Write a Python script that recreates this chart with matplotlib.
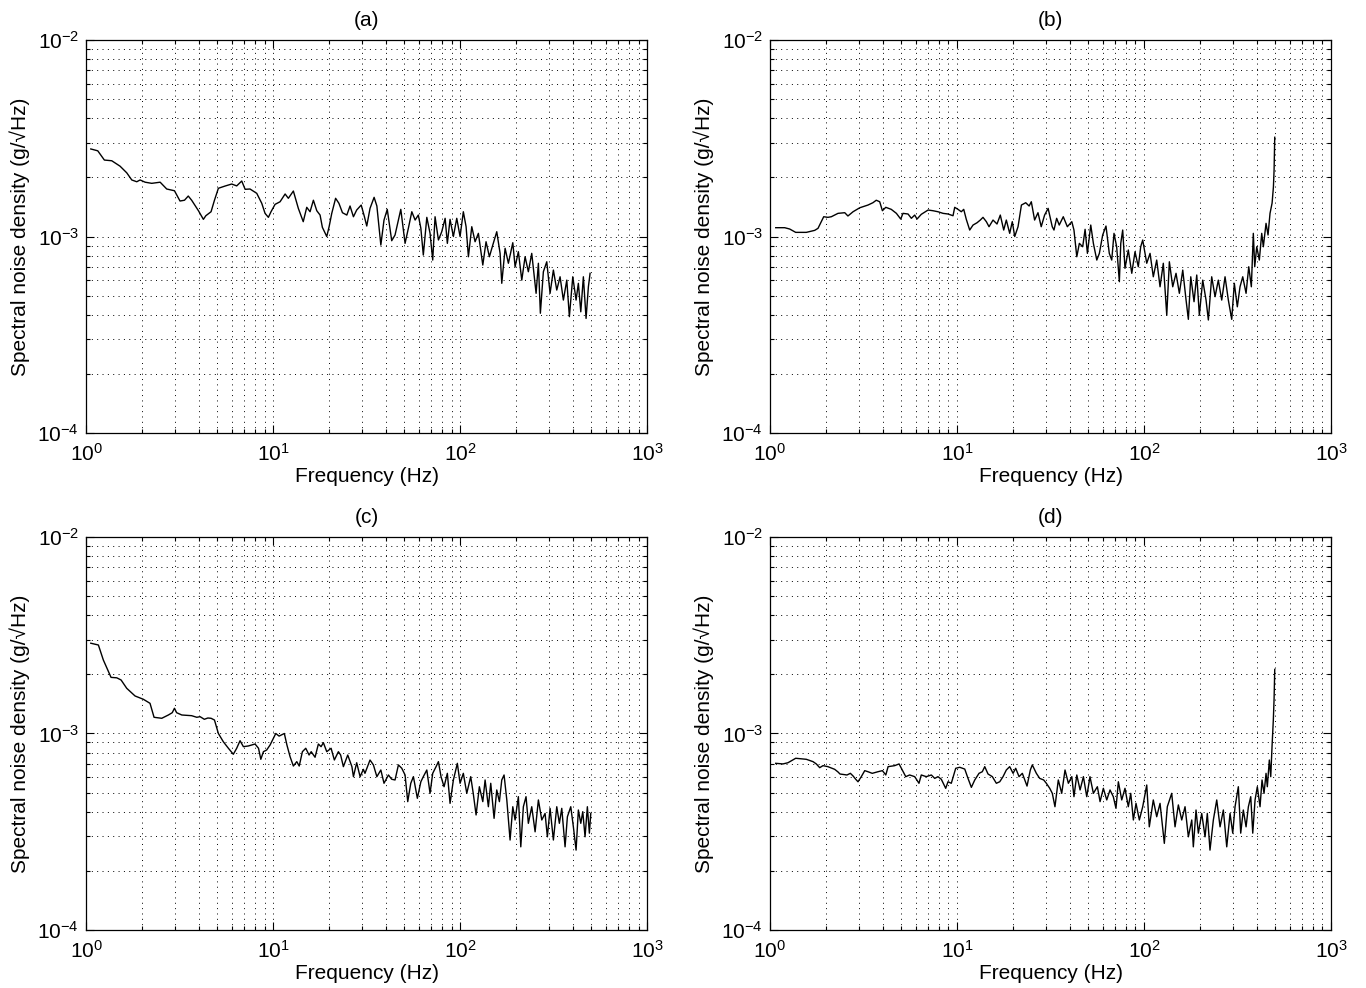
import numpy as np
import matplotlib
matplotlib.use('Agg')
import matplotlib.pyplot as plt
from matplotlib.ticker import LogLocator, NullFormatter

plt.rcParams['font.family'] = ['Liberation Sans', 'DejaVu Sans']
plt.rcParams['mathtext.fontset'] = 'custom'
plt.rcParams['mathtext.rm'] = 'Liberation Sans'
plt.rcParams['mathtext.it'] = 'Liberation Sans:italic'
plt.rcParams['mathtext.bf'] = 'Liberation Sans:bold'

# spectra; psd values in units of 1e-3 g/sqrt(Hz)
freq_a = [1.06, 1.155, 1.253, 1.372, 1.52, 1.65, 1.756, 1.867, 1.945, 2.07,
          2.245, 2.49, 2.70, 2.97, 3.18, 3.36, 3.52, 3.67, 3.99, 4.24,
          4.37, 4.66, 4.86, 5.10, 5.54, 6.01, 6.39, 6.80, 7.09, 7.53,
          8.18, 8.70, 9.06, 9.44, 9.75, 10.25, 10.9, 11.6, 12.07, 12.84,
          13.65, 14.5, 15.14, 15.77, 16.43, 17.13, 17.84, 18.35, 19.37, 19.94,
          20.6, 21.6, 22.5, 23.5, 24.8, 25.8, 26.9, 28.0, 29.6, 30.8,
          31.7, 33.0, 34.7, 35.9, 37.7, 39.2, 40.8, 43.1, 44.9, 48.2,
          50.8, 52.9, 55.2, 57.5, 59.8, 61.7, 63.6, 66.4, 69.1, 71.4,
          73.5, 76.6, 79.8, 83.2, 85.5, 88.4, 92.1, 96.0, 100, 104.1,
          107.7, 110.8, 115.5, 120.3, 125.3, 132.3, 137.7, 143.5, 149.6, 157.1,
          163.7, 167.1, 174.1, 181.3, 191.4, 196.9, 205.0, 213.8, 222.7, 231.8,
          241.7, 255.0, 262.3, 268.8, 278.9, 290.8, 302.9, 315.5, 328.9, 342.6,
          356.8, 372.1, 384.1, 400.6, 417.2, 429.1, 442.1, 456.4, 471.8, 485.5,
          495.7]
psd_a = [2.79, 2.73, 2.45, 2.43, 2.28, 2.11, 1.94, 1.90, 1.94, 1.89,
         1.865, 1.89, 1.745, 1.71, 1.516, 1.53, 1.607, 1.53, 1.353, 1.223,
         1.276, 1.337, 1.53, 1.76, 1.807, 1.85, 1.81, 1.916, 1.739, 1.745,
         1.659, 1.476, 1.312, 1.252, 1.337, 1.458, 1.503, 1.646, 1.565, 1.704,
         1.391, 1.19, 1.408, 1.337, 1.53, 1.353, 1.286, 1.114, 1.0, 1.122,
         1.312, 1.565, 1.476, 1.322, 1.286, 1.43, 1.261, 1.364, 1.446, 1.261,
         1.131, 1.391, 1.583, 1.43, 0.905, 1.213, 1.375, 0.952, 1.018, 1.375,
         0.923, 1.101, 1.337, 1.213, 1.286, 1.101, 0.805, 1.252, 1.038, 0.759,
         1.261, 0.96, 1.058, 1.238, 0.923, 1.223, 1.0, 1.238, 1.0, 1.337,
         1.122, 0.789, 1.122, 0.941, 1.038, 0.716, 0.941, 0.789, 0.905, 1.058,
         0.821, 0.578, 0.871, 0.731, 0.93, 0.702, 0.837, 0.60, 0.789, 0.662,
         0.821, 0.514, 0.731, 0.407, 0.662, 0.744, 0.514, 0.675, 0.534, 0.624,
         0.475, 0.60, 0.391, 0.624, 0.475, 0.578, 0.414, 0.624, 0.383, 0.555,
         0.65]

freq_b = [1.073, 1.198, 1.274, 1.372, 1.564, 1.734, 1.806, 1.88, 1.937, 2.04,
          2.127, 2.31, 2.51, 2.61, 2.78, 3.02, 3.34, 3.55, 3.70, 3.86,
          3.99, 4.16, 4.45, 4.74, 5.0, 5.14, 5.47, 5.70, 5.94, 6.11,
          6.44, 7.0, 7.44, 7.91, 8.42, 8.95, 9.52, 9.72, 10.12, 10.54,
          10.86, 11.21, 11.69, 12.18, 12.79, 13.32, 13.77, 14.35, 14.83, 15.58,
          16.36, 17.04, 17.77, 18.35, 19.13, 19.75, 20.35, 21.2, 22.1, 23.3,
          24.3, 24.96, 26.0, 27.1, 28.2, 29.4, 30.7, 32.3, 33.0, 34.1,
          35.2, 37.0, 38.9, 41.1, 42.2, 43.7, 45.1, 47.0, 48.4, 49.8,
          51.9, 53.6, 55.9, 57.7, 60.1, 62.6, 65.2, 67.2, 69.1, 71.4,
          73.8, 75.1, 76.9, 79.1, 82.4, 86.0, 89.5, 93.2, 96.0, 98.4,
          103.4, 107.7, 112.1, 116.9, 121.8, 126.8, 132.3, 136.6, 142.4, 148.3,
          154.5, 161.1, 167.8, 172.6, 177.8, 185.1, 191.4, 197.6, 206.0, 214.6,
          220.8, 230.1, 239.8, 249.6, 260.3, 271.2, 282.4, 294.4, 304.0, 315.4,
          326.1, 337.2, 351.3, 363.1, 374.9, 384.1, 390.8, 400.6, 413.6, 426.0,
          434.5, 449.2, 460.4, 471.8, 484, 492, 496, 500]
psd_b = [1.109, 1.109, 1.092, 1.05, 1.05, 1.075, 1.101, 1.19, 1.261, 1.252,
         1.261, 1.312, 1.322, 1.272, 1.337, 1.401, 1.446, 1.486, 1.53, 1.503,
         1.353, 1.408, 1.375, 1.312, 1.227, 1.312, 1.302, 1.238, 1.286, 1.227,
         1.297, 1.364, 1.353, 1.337, 1.312, 1.302, 1.276, 1.408, 1.375, 1.337,
         1.375, 1.223, 1.079, 1.144, 1.175, 1.213, 1.252, 1.19, 1.122, 1.213,
         1.158, 1.286, 1.079, 1.213, 1.038, 1.19, 1.0, 1.122, 1.446, 1.486,
         1.43, 1.503, 1.213, 1.322, 1.122, 1.286, 1.391, 1.122, 1.079, 1.238,
         1.144, 1.261, 1.122, 1.19, 1.079, 0.789, 0.923, 0.887, 1.088, 0.821,
         1.144, 0.923, 0.759, 0.821, 1.018, 1.131, 0.821, 0.759, 1.038, 0.887,
         0.589, 0.923, 1.079, 0.689, 0.854, 0.65, 0.837, 0.702, 0.887, 0.96,
         0.731, 0.821, 0.624, 0.759, 0.555, 0.731, 0.398, 0.744, 0.555, 0.65,
         0.514, 0.675, 0.475, 0.379, 0.624, 0.466, 0.637, 0.398, 0.60, 0.475,
         0.376, 0.624, 0.494, 0.60, 0.475, 0.624, 0.475, 0.379, 0.578, 0.439,
         0.555, 0.624, 0.514, 0.702, 0.555, 1.038, 0.702, 0.887, 0.759, 1.038,
         0.887, 1.167, 1.018, 1.312, 1.48, 1.79, 2.18, 3.2]

freq_c = [1.06, 1.164, 1.237, 1.36, 1.46, 1.539, 1.65, 1.828, 2.025, 2.198,
          2.31, 2.54, 2.755, 2.89, 2.97, 3.05, 3.25, 3.67, 3.91, 4.07,
          4.29, 4.48, 4.66, 4.86, 5.10, 5.42, 5.77, 6.13, 6.39, 6.66,
          6.94, 7.38, 8.01, 8.36, 8.6, 8.88, 9.24, 9.64, 10.34, 10.77,
          11.49, 11.86, 12.33, 12.84, 13.39, 13.8, 14.35, 14.96, 15.58, 15.99,
          16.77, 17.47, 18.06, 18.58, 19.37, 20.43, 21.27, 22.35, 22.98, 23.77,
          25.08, 26.4, 26.9, 28.0, 29.2, 30.4, 31.0, 33.0, 34.4, 35.9,
          37.7, 39.2, 41.4, 43.1, 44.9, 46.8, 48.8, 50.8, 52.5, 54.5,
          56.3, 59.1, 61.7, 63.6, 66.4, 69.1, 71.4, 74.4, 76.6, 79.1,
          82.1, 85.5, 88.4, 92.1, 96.7, 100, 104.1, 108.6, 114.0, 117.6,
          121.8, 126.8, 132.3, 136.1, 141.7, 145.9, 152.0, 157.1, 162.3, 167.1,
          171.9, 177.8, 185.1, 191.4, 196.9, 205.0, 211.2, 218.0, 225.3, 231.8,
          241.7, 251.9, 262.3, 273.5, 284.8, 293.0, 302.9, 315.5, 328.9, 339.6,
          349.8, 364.3, 374.9, 390.8, 403.5, 417.2, 429.1, 442.1, 453.0, 466.0,
          479.4, 491.4, 500]
psd_c = [2.88, 2.82, 2.366, 1.93, 1.92, 1.872, 1.698, 1.552, 1.493, 1.424,
         1.209, 1.195, 1.242, 1.276, 1.344, 1.276, 1.242, 1.232, 1.209, 1.218,
         1.181, 1.199, 1.195, 1.171, 1.0, 0.908, 0.841, 0.784, 0.841, 0.919,
         0.857, 0.864, 0.884, 0.841, 0.739, 0.808, 0.824, 0.874, 1.0, 0.97,
         1.0, 0.874, 0.762, 0.683, 0.719, 0.683, 0.808, 0.841, 0.777, 0.808,
         0.757, 0.884, 0.857, 0.898, 0.808, 0.841, 0.733, 0.808, 0.777, 0.678,
         0.777, 0.678, 0.603, 0.71, 0.603, 0.657, 0.627, 0.733, 0.692, 0.603,
         0.652, 0.558, 0.615, 0.585, 0.58, 0.692, 0.665, 0.615, 0.45, 0.558,
         0.603, 0.468, 0.568, 0.603, 0.652, 0.496, 0.627, 0.678, 0.719, 0.603,
         0.536, 0.627, 0.441, 0.58, 0.705, 0.558, 0.627, 0.496, 0.603, 0.496,
         0.385, 0.536, 0.45, 0.58, 0.424, 0.558, 0.37, 0.516, 0.45, 0.58,
         0.615, 0.459, 0.287, 0.424, 0.363, 0.477, 0.265, 0.424, 0.477, 0.349,
         0.424, 0.316, 0.459, 0.363, 0.392, 0.298, 0.416, 0.287, 0.424, 0.349,
         0.416, 0.265, 0.377, 0.424, 0.335, 0.255, 0.408, 0.349, 0.4, 0.298,
         0.424, 0.311, 0.392]

freq_d = [1.073, 1.173, 1.248, 1.372, 1.564, 1.698, 1.768, 1.844, 1.92, 2.04,
          2.218, 2.31, 2.367, 2.58, 2.69, 2.78, 2.873, 2.955, 3.077, 3.21,
          3.34, 3.52, 3.78, 3.99, 4.16, 4.28, 4.64, 4.90, 5.04, 5.32,
          5.58, 5.94, 6.26, 6.44, 6.85, 7.29, 7.6, 7.91, 8.24, 8.70,
          8.95, 9.32, 9.84, 10.34, 11.0, 11.45, 11.93, 12.44, 13.11, 13.65,
          14.07, 14.65, 15.45, 16.23, 16.92, 17.62, 18.35, 19.13, 19.94, 20.6,
          21.46, 22.35, 23.68, 24.66, 25.27, 26.56, 27.68, 29.08, 30.03, 31.32,
          32.33, 33.4, 34.8, 36.3, 37.8, 39.4, 41.1, 42.2, 43.7, 45.5,
          47.4, 49.4, 51.4, 53.6, 56.3, 58.2, 60.6, 63.2, 65.8, 68.5,
          70.8, 72.9, 76.0, 79.1, 82.4, 84.9, 87.7, 90.6, 94.4, 98.4,
          103.4, 106.7, 112.1, 116.9, 121.8, 128.4, 133.2, 140.6, 146.5, 152.6,
          159.1, 165.7, 172.6, 180.0, 183.5, 189.7, 195.2, 203.5, 212.0, 218.0,
          225.3, 234.8, 244.8, 255.0, 265.6, 276.9, 288.4, 298.1, 306.7, 319.4,
          328.9, 339.6, 351.3, 361.4, 372.1, 381.4, 392.4, 403.5, 417.2, 427.6,
          438.3, 449.2, 456.4, 467.8, 476.0, 483.6, 491.4, 496, 500]
psd_d = [0.705, 0.70, 0.71, 0.748, 0.739, 0.719, 0.70, 0.67, 0.686, 0.678,
         0.657, 0.637, 0.622, 0.615, 0.627, 0.608, 0.585, 0.568, 0.603, 0.647,
         0.639, 0.627, 0.639, 0.647, 0.615, 0.678, 0.686, 0.70, 0.665, 0.603,
         0.615, 0.603, 0.558, 0.615, 0.603, 0.615, 0.591, 0.603, 0.585, 0.526,
         0.568, 0.558, 0.665, 0.673, 0.659, 0.591, 0.532, 0.58, 0.627, 0.639,
         0.678, 0.622, 0.603, 0.558, 0.568, 0.603, 0.652, 0.678, 0.627, 0.665,
         0.603, 0.627, 0.54, 0.652, 0.692, 0.627, 0.591, 0.58, 0.558, 0.526,
         0.496, 0.424, 0.58, 0.496, 0.652, 0.558, 0.603, 0.477, 0.615, 0.516,
         0.603, 0.477, 0.603, 0.496, 0.536, 0.45, 0.526, 0.459, 0.516, 0.477,
         0.416, 0.568, 0.459, 0.526, 0.424, 0.496, 0.363, 0.441, 0.363, 0.424,
         0.547, 0.335, 0.459, 0.377, 0.441, 0.276, 0.424, 0.496, 0.335, 0.433,
         0.363, 0.424, 0.298, 0.363, 0.265, 0.408, 0.311, 0.392, 0.298, 0.392,
         0.255, 0.363, 0.459, 0.335, 0.408, 0.265, 0.392, 0.311, 0.424, 0.536,
         0.311, 0.408, 0.335, 0.424, 0.477, 0.311, 0.459, 0.536, 0.424, 0.58,
         0.496, 0.627, 0.536, 0.733, 0.603, 0.857, 1.171, 1.5, 2.12]

titles = ['(a)', '(b)', '(c)', '(d)']
freqs = [freq_a, freq_b, freq_c, freq_d]
psds = [psd_a, psd_b, psd_c, psd_d]

fig = plt.figure(figsize=(13.66, 9.88), dpi=100)
boxes = [[0.0630, 0.5617, 0.4107, 0.3978],
         [0.5637, 0.5617, 0.4107, 0.3978],
         [0.0630, 0.0587, 0.4107, 0.3978],
         [0.5637, 0.0587, 0.4107, 0.3978]]

for box, title, f, p in zip(boxes, titles, freqs, psds):
    ax = fig.add_axes(box)
    ax.loglog(f, np.array(p) * 1e-3, color='k', lw=1.0)
    ax.set_xlim(1, 1000)
    ax.set_ylim(1e-4, 1e-2)
    ax.xaxis.set_major_locator(LogLocator(base=10, numticks=10))
    ax.yaxis.set_major_locator(LogLocator(base=10, numticks=10))
    ax.xaxis.set_minor_locator(LogLocator(base=10, subs=np.arange(2, 10), numticks=20))
    ax.yaxis.set_minor_locator(LogLocator(base=10, subs=np.arange(2, 10), numticks=20))
    ax.xaxis.set_minor_formatter(NullFormatter())
    ax.yaxis.set_minor_formatter(NullFormatter())
    ax.set_axisbelow(True)
    ax.grid(True, which='both', color='k', lw=0.7, linestyle=(0, (1, 4.5)))
    ax.tick_params(which='both', direction='in', top=True, right=True,
                   labelsize=15, width=0.8)
    ax.tick_params(which='major', length=6)
    ax.tick_params(which='minor', length=3)
    ax.tick_params(axis='x', which='major', pad=7)
    ax.tick_params(axis='y', which='major', pad=5)
    for s in ax.spines.values():
        s.set_linewidth(0.9)
    ax.set_title(title, fontsize=15, pad=10)
    ax.set_xlabel('Frequency (Hz)', fontsize=15, labelpad=2)
    ax.set_ylabel('Spectral noise density (g/\u221aHz)', fontsize=15, labelpad=5)

fig.savefig('out.png', dpi=100)
